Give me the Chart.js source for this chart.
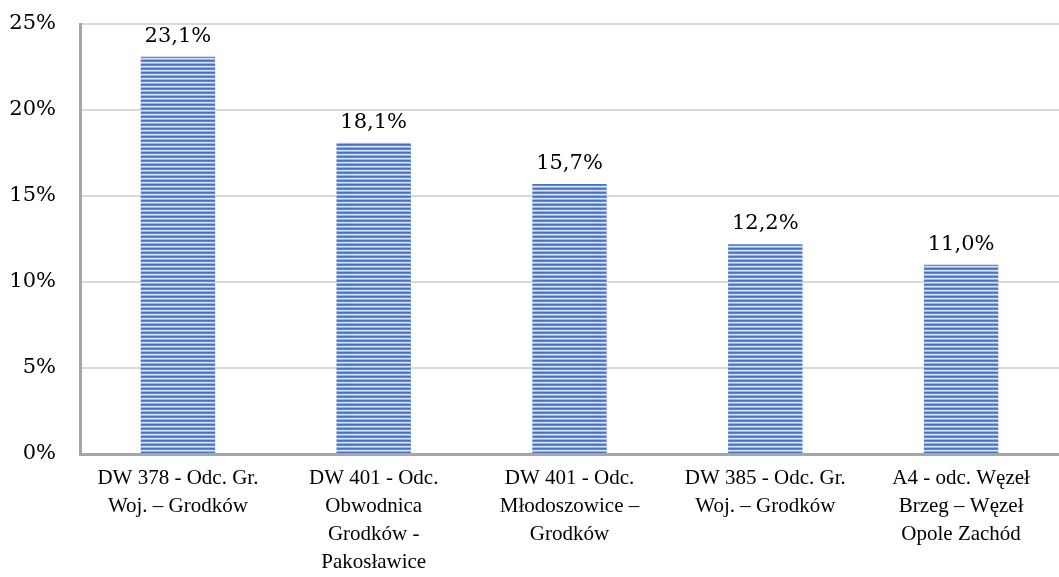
<!DOCTYPE html>
<html>
<head>
<meta charset="utf-8">
<script src="https://cdn.jsdelivr.net/npm/chart.js@4"></script>
<style>
  body { margin: 0; background: #fff; }
</style>
</head>
<body>
<canvas id="barChart" width="1059" height="577"></canvas>
<script>
const categories = [
  ['DW 378 - Odc. Gr.', 'Woj. – Grodków'],
  ['DW 401 - Odc.', 'Obwodnica', 'Grodków -', 'Pakosławice'],
  ['DW 401 - Odc.', 'Młodoszowice –', 'Grodków'],
  ['DW 385 - Odc. Gr.', 'Woj. – Grodków'],
  ['A4 - odc. Węzeł', 'Brzeg – Węzeł', 'Opole Zachód']
];
const shares = [23.1, 18.1, 15.7, 12.2, 11.0];
const yTicks = [0, 5, 10, 15, 20, 25];

const TEXT_FONT = '"Liberation Serif", serif';
const NUM_FONT = '"DejaVu Serif", serif';

// striped fill like the original
const pc = document.createElement('canvas');
pc.width = 1; pc.height = 4;
const px = pc.getContext('2d');
['#4472c4', '#6489d0', '#d6e1f4', '#9db4e2'].forEach((c, i) => {
  px.fillStyle = c; px.fillRect(0, i, 1, 1);
});
const stripes = px.createPattern(pc, 'repeat');

const valueLabels = {
  id: 'valueLabels',
  afterDatasetsDraw(chart) {
    const ctx = chart.ctx;
    ctx.save();
    ctx.font = '21px ' + NUM_FONT;
    ctx.fillStyle = '#000';
    ctx.textAlign = 'center';
    ctx.textBaseline = 'bottom';
    chart.getDatasetMeta(0).data.forEach((bar, i) => {
      ctx.fillText(shares[i].toFixed(1).replace('.', ',') + '%', bar.x, bar.y - 10);
    });
    ctx.restore();
  }
};

const ctx = document.getElementById('barChart').getContext('2d');
new Chart(ctx, {
  type: 'bar',
  data: {
    labels: categories,
    datasets: [{
      data: shares,
      backgroundColor: stripes,
      borderWidth: 0,
      barPercentage: 0.38,
      categoryPercentage: 1
    }]
  },
  options: {
    responsive: false,
    animation: false,
    layout: { padding: { top: 24, right: 0, left: 0, bottom: 0 } },
    plugins: {
      legend: { display: false },
      tooltip: { enabled: false }
    },
    scales: {
      x: {
        grid: { display: false },
        border: { color: '#a6a6a6', width: 3 },
        ticks: {
          color: '#000',
          font: { family: TEXT_FONT, size: 21, lineHeight: 1.32 },
          maxRotation: 0,
          autoSkip: false,
          padding: 3
        },
        afterFit(scale) { scale.height = 123; scale.paddingTop = 0; }
      },
      y: {
        min: 0,
        max: 25,
        afterBuildTicks(scale) { scale.ticks = yTicks.map(v => ({ value: v })); },
        grid: { color: '#d9d9d9', lineWidth: 2, drawTicks: false },
        border: { color: '#a6a6a6', width: 3 },
        ticks: {
          color: '#000',
          font: { family: NUM_FONT, size: 21 },
          padding: 24,
          callback: v => v + '%'
        },
        afterFit(scale) { scale.width = 80; scale.paddingTop = 0; }
      }
    }
  },
  plugins: [valueLabels]
});
</script>
</body>
</html>
